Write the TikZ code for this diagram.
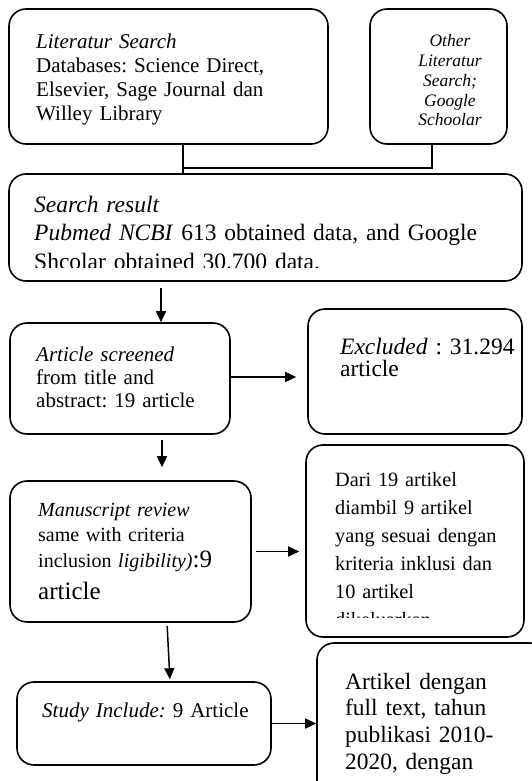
\documentclass[tikz,border=0pt]{standalone}
\usepackage{fontspec}
\setmainfont{Liberation Serif}
\frenchspacing
\usetikzlibrary{arrows.meta}

\begin{document}
\begin{tikzpicture}[x=1pt,y=-1pt,
    box/.style={draw,line width=1.6pt,rounded corners=17pt},
    txt/.style={anchor=base west,inner sep=0pt,align=left},
    arr/.style={line width=1.5pt,-{Triangle[length=11pt,width=10pt]}}]

  \clip (0,0) rectangle (532,781);

  \begin{scope}[every node/.style={box}]
    \node[minimum width=319pt,minimum height=135pt] (lit) at (168.5,76.5) {};
    \node[minimum width=137pt,minimum height=135pt] (oth) at (438.5,76.5) {};
    \node[minimum width=513pt,minimum height=107pt] (res) at (265.5,227.5) {};
    \node[minimum width=220pt,minimum height=111pt] (scr) at (120,378.5) {};
    \node[minimum width=214pt,minimum height=125pt] (exc) at (415,371.5) {};
    \node[minimum width=241pt,minimum height=141pt] (man) at (130.5,551.5) {};
    \node[minimum width=218pt,minimum height=192pt] (dari) at (415,541) {};
    \node[minimum width=254pt,minimum height=83pt] (stu) at (144,723.5) {};
    \node[minimum width=230pt,minimum height=190pt] (art) at (432,738) {};
  \end{scope}

  \node[txt,text width=290pt,font=\fontsize{21}{24}\selectfont] (littxt) at (36,49)
    {\textit{Literatur Search}\\ Databases: Science Direct,\\ Elsevier, Sage Journal dan\\ Willey Library};
  \begin{scope}
    \clip (372,12) rectangle (505,128);
    \node[txt,anchor=base,align=center,text width=110pt,font=\fontsize{17.5}{19.7}\selectfont\itshape] (othtxt) at (450,47)
      {Other\\ Literatur\\ Search;\\ Google\\ Schoolar};
  \end{scope}
  \begin{scope}
    \clip (12,177) rectangle (519,267);
    \node[txt,text width=480pt,font=\fontsize{23.5}{28.3}\selectfont] (restxt) at (34,212.5)
      {\textit{Search result}\\ \textit{Pubmed NCBI} 613 obtained data, and Google\\ Shcolar obtained 30.700 data.};
  \end{scope}
  \node[txt,text width=190pt,font=\fontsize{21}{23}\selectfont] (scrtxt) at (36,361)
    {\textit{Article screened}\\ from title and\\ abstract: 19 article};
  \node[txt,text width=180pt,font=\fontsize{23.5}{22}\selectfont] (exctxt) at (340,354)
    {\textit{Excluded} : 31.294\\ article};
  \node[txt,text width=210pt,font=\fontsize{20}{25}\selectfont] (mantxt) at (38,516)
    {\textit{Manuscript review}\\ same with criteria\\[1pt] inclusion \textit{ligibility)}{\fontsize{25}{25}\selectfont:9}\\[7pt] {\fontsize{25}{25}\selectfont article}};
  \begin{scope}
    \clip (310,448) rectangle (520,617);
    \node[txt,text width=185pt,font=\fontsize{20.3}{28}\selectfont] (daritxt) at (335,486)
      {Dari 19 artikel\\ diambil 9 artikel\\ yang sesuai dengan\\ kriteria inklusi dan\\ 10 artikel\\ dikeluarkan};
  \end{scope}
  \node[txt,text width=230pt,font=\fontsize{21}{24}\selectfont] (stutxt) at (42,717)
    {\textit{Study Include:} 9 Article};
  \node[txt,text width=185pt,font=\fontsize{23.4}{26.7}\selectfont] (arttxt) at (345,689)
    {Artikel dengan\\ full text, tahun\\ publikasi 2010-\\ 2020, dengan};

  \draw[line width=1.6pt] ([xshift=14.5pt]lit.south) -- ([xshift=14.5pt]lit.south |- res.north);
  \draw[line width=1.6pt] ([xshift=-6.5pt]oth.south) -- ++(0,23) -| ([xshift=14.5pt]lit.south);
  \draw[arr,shorten <=6pt] ([xshift=41pt]scr.north |- res.south) -- ([xshift=41pt]scr.north);
  \draw[arr,shorten >=11pt] (scr.east |- 0,377) -- (exc.west |- 0,377);
  \draw[arr,shorten <=5pt,shorten >=13pt] ([xshift=42pt]scr.south) -- ([xshift=42pt]scr.south |- man.north);
  \draw[arr,shorten <=4pt,shorten >=6pt] (man.east) -- (dari.west |- man.east);
  \draw[arr,shorten <=3pt,shorten >=2pt] ([xshift=36.5pt]man.south) -- ([xshift=26pt]stu.north);
  \draw[arr] (stu.east) -- (art.west |- stu.east);

\end{tikzpicture}
\end{document}
